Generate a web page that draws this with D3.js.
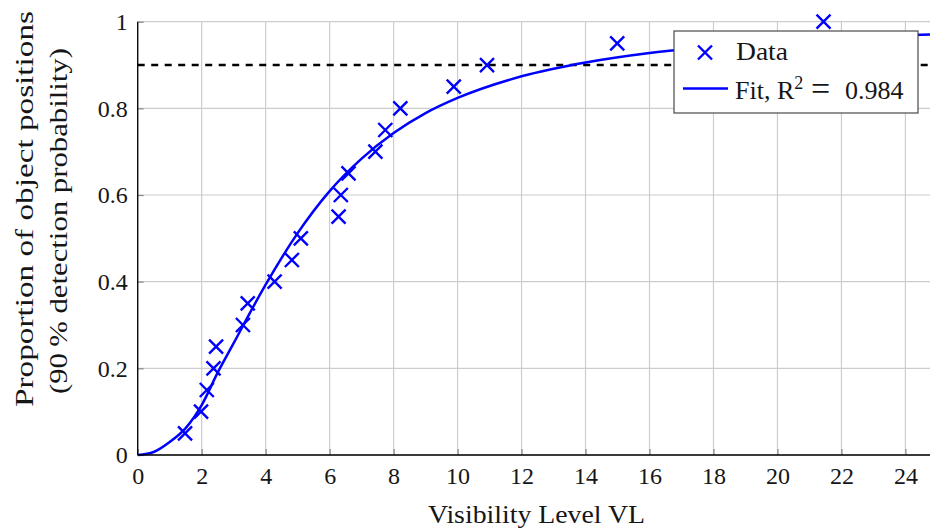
<!DOCTYPE html>
<html>
<head>
<meta charset="utf-8">
<script src="https://cdn.jsdelivr.net/npm/d3@7"></script>
<style>
  body { margin: 0; background: #fff; }
  svg { display: block; }
  text { font-family: "Liberation Serif", "Times New Roman", serif; fill: #161616; }
</style>
</head>
<body>
<svg id="chart" width="930" height="528"></svg>
<script>
// ---- data ----
const xTickValues = [0, 2, 4, 6, 8, 10, 12, 14, 16, 18, 20, 22, 24];
const xTickLabels = ["0", "2", "4", "6", "8", "10", "12", "14", "16", "18", "20", "22", "24"];
const yTickValues = [0, 0.2, 0.4, 0.6, 0.8, 1];
const yTickLabels = ["0", "0.2", "0.4", "0.6", "0.8", "1"];

// measured points (Visibility Level, proportion)
const dataVL = [1.48, 1.98, 2.16, 2.37, 2.45, 3.29, 3.44, 4.28, 4.82, 5.10,
                6.28, 6.35, 6.59, 7.43, 7.74, 8.21, 9.88, 10.92, 14.99, 21.44];
const dataP  = [0.05, 0.10, 0.15, 0.20, 0.25, 0.30, 0.35, 0.40, 0.45, 0.50,
                0.55, 0.60, 0.65, 0.70, 0.75, 0.80, 0.85, 0.90, 0.95, 1.00];

// fit curve
const fitVL = [0, 0.5, 1, 1.5, 2, 2.5, 3, 3.5, 4, 5, 6, 7, 8, 9, 10, 12, 14, 16, 18, 20, 22, 24, 25];
const fitP  = [0, 0.007, 0.03, 0.062, 0.115, 0.19, 0.258, 0.327, 0.393, 0.512, 0.609, 0.684,
               0.743, 0.789, 0.824, 0.874, 0.906, 0.928, 0.943, 0.954, 0.962, 0.969, 0.971];

const thresholdP = 0.9;
const legendLabels = ["Data", "Fit, R", "2", "=", "0.984"];
const xLabel = "Visibility Level VL";
const yLabelLines = ["Proportion of object positions", "(90\u2009% detection probability)"];

// ---- drawing ----
const svg = d3.select("#chart");
const x = d3.scaleLinear().domain([0, 25]).range([137.7, 937.4]);
const y = d3.scaleLinear().domain([0, 1]).range([455, 21.7]);
const blue = "#0000ff";
const rightEdge = 930;
const serif = '"Liberation Serif", "Times New Roman", serif';

// grid
const grid = svg.append("g");
grid.selectAll("line.v").data(xTickValues).join("line")
  .attr("x1", d => x(d)).attr("x2", d => x(d))
  .attr("y1", y(0)).attr("y2", y(1))
  .attr("stroke", "#cdcdcd").attr("stroke-width", 1.2);
grid.selectAll("line.h").data(yTickValues).join("line")
  .attr("x1", x(0)).attr("x2", x(25))
  .attr("y1", d => y(d)).attr("y2", d => y(d))
  .attr("stroke", "#cdcdcd").attr("stroke-width", 1.2);

// axes (labels + inner ticks)
const xAxis = svg.append("g").attr("transform", `translate(0,${y(0)})`)
  .call(d3.axisBottom(x).tickValues(xTickValues)
        .tickFormat((d, i) => xTickLabels[i]).tickSize(-6).tickPadding(12));
const yAxis = svg.append("g").attr("transform", `translate(${x(0)},0)`)
  .call(d3.axisLeft(y).tickValues(yTickValues)
        .tickFormat((d, i) => yTickLabels[i]).tickSize(-6).tickPadding(10));
[xAxis, yAxis].forEach(g => {
  g.attr("font-family", null).attr("font-size", null);
  g.select(".domain").remove();
  g.selectAll(".tick line").attr("stroke", "#8a8a8a").attr("stroke-width", 1.2);
  g.selectAll(".tick text").style("font-size", "24px")
    .style("font-family", serif).style("fill", "#161616");
});

// threshold dashed line
svg.append("line")
  .attr("x1", x(0)).attr("x2", x(25))
  .attr("y1", y(thresholdP)).attr("y2", y(thresholdP))
  .attr("stroke", "#000").attr("stroke-width", 2.4)
  .attr("stroke-dasharray", "7,6.5");

// fit curve
const fitPts = fitVL.map((v, i) => [v, fitP[i]]);
svg.append("path")
  .attr("d", d3.line().x(d => x(d[0])).y(d => y(d[1])).curve(d3.curveMonotoneX)(fitPts))
  .attr("fill", "none").attr("stroke", blue).attr("stroke-width", 2.5);

// data markers
const cross = "M-7,-7L7,7M-7,7L7,-7";
svg.append("g").selectAll("path").data(dataVL.map((v, i) => [v, dataP[i]])).join("path")
  .attr("transform", d => `translate(${x(d[0])},${y(d[1])})`)
  .attr("d", cross).attr("stroke", blue).attr("stroke-width", 2.4).attr("fill", "none");

// axis lines
svg.append("line").attr("x1", x(0)).attr("x2", x(0)).attr("y1", y(0)).attr("y2", y(1))
  .attr("stroke", "#000").attr("stroke-width", 1.3);
svg.append("line").attr("x1", x(0)).attr("x2", rightEdge).attr("y1", y(0)).attr("y2", y(0))
  .attr("stroke", "#000").attr("stroke-width", 1.3);

// axis titles
svg.append("text").attr("x", 536.5).attr("y", 523).attr("text-anchor", "middle")
  .attr("font-size", 26).attr("textLength", 217).attr("lengthAdjust", "spacingAndGlyphs")
  .text(xLabel);
svg.append("text").attr("transform", "translate(33,209) rotate(-90)")
  .attr("text-anchor", "middle").attr("font-size", 26)
  .attr("textLength", 396).attr("lengthAdjust", "spacingAndGlyphs").text(yLabelLines[0]);
svg.append("text").attr("transform", "translate(66.5,221) rotate(-90)")
  .attr("text-anchor", "middle").attr("font-size", 26)
  .attr("textLength", 346).attr("lengthAdjust", "spacingAndGlyphs").text(yLabelLines[1]);

// legend
const lg = svg.append("g");
lg.append("rect").attr("x", 674).attr("y", 31).attr("width", 244).attr("height", 82)
  .attr("fill", "#fff").attr("stroke", "#3a3a3a").attr("stroke-width", 1.1);
lg.append("path").attr("transform", "translate(705,52.5)").attr("d", cross)
  .attr("stroke", blue).attr("stroke-width", 2.4).attr("fill", "none");
lg.append("text").attr("x", 736).attr("y", 60).attr("font-size", 26)
  .attr("textLength", 52).attr("lengthAdjust", "spacingAndGlyphs").text(legendLabels[0]);
lg.append("line").attr("x1", 683).attr("x2", 728).attr("y1", 88.5).attr("y2", 88.5)
  .attr("stroke", blue).attr("stroke-width", 2.5);
const ft = lg.append("text").attr("x", 735).attr("y", 99).attr("font-size", 26);
ft.append("tspan").text(legendLabels[1]);
ft.append("tspan").attr("dy", -10).attr("font-size", 18).text(legendLabels[2]);
ft.append("tspan").attr("x", 811).attr("dy", 11).attr("font-size", 34).text(legendLabels[3]);
ft.append("tspan").attr("x", 845).attr("dy", -1).attr("font-size", 26).text(legendLabels[4]);
</script>
</body>
</html>
